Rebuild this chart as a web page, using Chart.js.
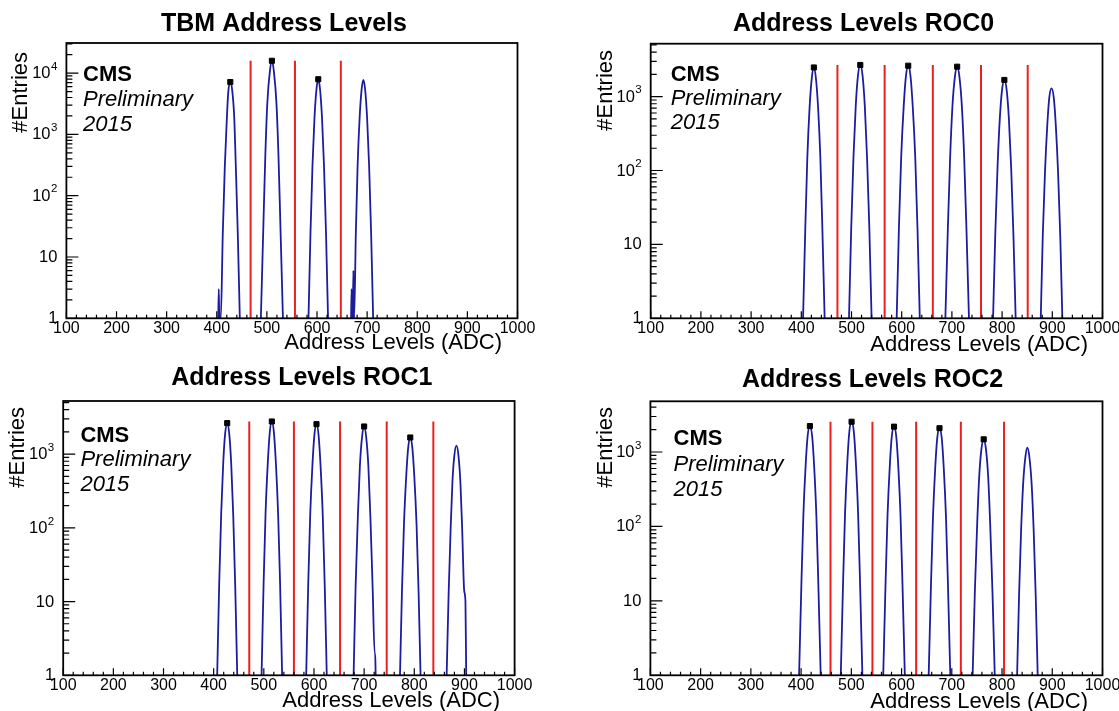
<!DOCTYPE html>
<html>
<head>
<meta charset="utf-8">
<title>Address Levels</title>
<script src="https://cdn.jsdelivr.net/npm/chart.js@4.4.1/dist/chart.umd.min.js"></script>
<style>
    html, body { margin: 0; padding: 0; background: #fff; }
    body { position: relative; width: 1119px; height: 711px; overflow: hidden; }
    .pad { position: absolute; }
    .pad canvas { display: block; }
</style>
</head>
<body>
<div class="pad" style="left:0px;top:0px"><canvas id="tbm" width="560" height="360"></canvas></div>
<div class="pad" style="left:560px;top:0px"><canvas id="roc0" width="559" height="360"></canvas></div>
<div class="pad" style="left:0px;top:360px"><canvas id="roc1" width="560" height="351"></canvas></div>
<div class="pad" style="left:560px;top:360px"><canvas id="roc2" width="559" height="351"></canvas></div>
<script>
// axis ticks and labels
const xTicks = [100, 200, 300, 400, 500, 600, 700, 800, 900, 1000];
const yTicks = [1, 10, 100, 1000, 10000];
const yTickBase = ['1', '10', '10', '10', '10'];
const yTickExp = ['', '', '2', '3', '4'];
const titles = ['TBM Address Levels', 'Address Levels ROC0', 'Address Levels ROC1', 'Address Levels ROC2'];
const yMax = [31000, 5200, 5250, 4800];

// TBM: one list of bins per peak (ADC, entries)
const tbmX = [
    [403, 404, 405, 408, 412, 416, 420, 423, 427, 431, 435, 438, 442, 446],
    [488, 493, 497, 501, 506, 510, 514, 519, 523, 527, 532],
    [583, 587, 591, 595, 599, 602.5, 606, 610, 614, 618, 622],
    [668, 669, 670, 671.5, 672.5, 674, 677.5, 681, 685, 689, 692.5, 696, 700, 704, 708, 712]
];
const tbmY = [
    [1, 3, 1, 1, 24, 290, 1730, 5000, 7150, 5100, 1800, 300, 23, 1],
    [1, 33, 490, 3380, 10800, 15900, 10600, 3300, 480, 32, 1],
    [1, 25, 313, 1890, 5550, 7950, 5500, 1850, 300, 24, 1],
    [1, 3, 1, 1, 6, 1, 25, 309, 1850, 5420, 7770, 5400, 1820, 300, 24, 1]
];
const tbmCuts = [467.5, 556, 647.5];

// ROC0
const roc0X = [
    [403.5, 408, 412, 416.5, 421, 425, 429, 433.5, 438, 442, 446.5],
    [495, 499.5, 504, 508.5, 513, 517.5, 522, 526.5, 531, 535.5, 540],
    [590, 594.5, 599, 604, 608.5, 613, 617.5, 622, 627, 631.5, 636],
    [687, 692, 696.5, 701, 706, 710.5, 715, 720, 724.5, 729, 734],
    [782, 786.5, 791, 795.5, 800, 804.5, 809, 813.5, 818, 822.5, 827],
    [877, 881, 885.5, 890, 894, 898.5, 903, 907, 911.5, 916, 920]
];
const roc0Y = [
    [1, 17, 149, 710, 1810, 2480, 1800, 700, 145, 16, 1],
    [1, 17, 156, 760, 1950, 2680, 1940, 750, 150, 17, 1],
    [1, 17, 154, 743, 1910, 2620, 1900, 735, 150, 16, 1],
    [1, 17, 151, 725, 1860, 2540, 1850, 715, 148, 16, 1],
    [1, 14.5, 116, 512, 1250, 1680, 1240, 505, 112, 14, 1],
    [1, 13, 98, 410, 970, 1290, 960, 405, 95, 12, 1]
];
const roc0Cuts = [472, 566, 662, 758, 851];

// ROC1
const roc1X = [
    [407, 411, 415, 419, 423, 427, 431, 435, 439, 443, 447],
    [495.5, 499.5, 503.5, 508, 512, 516, 520, 524, 528.5, 532.5, 536.5],
    [584.5, 588.5, 592.5, 597, 601, 605, 609, 613, 617.5, 621.5, 625.5],
    [679, 683, 687.5, 691.5, 696, 700, 704, 708.5, 712.5, 717, 721, 722, 723],
    [771.5, 775.5, 779.5, 784, 788, 792, 796, 800, 804.5, 808.5, 812.5],
    [864.5, 868.5, 872.5, 876, 880, 884, 888, 892, 895.5, 899.5, 902, 903.5]
];
const roc1Y = [
    [1, 17, 155, 747, 1920, 2630, 1910, 740, 150, 16, 1],
    [1, 17, 160, 778, 2010, 2770, 2000, 770, 155, 17, 1],
    [1, 17, 151, 728, 1870, 2550, 1860, 720, 148, 16, 1],
    [1, 16, 145, 684, 1740, 2370, 1730, 675, 140, 15, 2, 2, 1],
    [1, 14.5, 116, 512, 1250, 1680, 1240, 505, 112, 14, 1],
    [1, 13, 98, 413, 975, 1300, 965, 405, 95, 14, 10, 1]
];
const roc1Cuts = [471, 560, 652, 745, 838];

// ROC2
const roc2X = [
    [396, 400.5, 404.5, 409, 413, 417.5, 422, 426, 430.5, 434.5, 439],
    [479, 483.5, 487.5, 492, 496, 500.5, 505, 509, 513.5, 517.5, 522],
    [563.5, 568, 572, 576.5, 580.5, 585, 589.5, 593.5, 598, 602, 606.5],
    [654, 658.5, 662.5, 667, 671, 675.5, 680, 684, 688.5, 692.5, 697],
    [741.5, 746, 750.5, 754.5, 759, 763.5, 768, 772.5, 776.5, 781, 785.5],
    [830, 834, 838, 842, 846.5, 850.5, 854.5, 859, 863, 867, 871]
];
const roc2Y = [
    [1, 16, 139, 649, 1640, 2230, 1630, 640, 135, 15, 1],
    [1, 17, 151, 728, 1870, 2550, 1860, 720, 148, 16, 1],
    [1, 16, 137, 640, 1610, 2190, 1600, 632, 134, 15, 1],
    [1, 16, 133, 615, 1540, 2090, 1530, 608, 130, 15, 1],
    [1, 14, 107, 460, 1100, 1480, 1090, 455, 104, 13, 1],
    [1, 12.6, 90, 370, 860, 1140, 850, 365, 88, 12, 1]
];
const roc2Cuts = [458.5, 542, 629, 718, 804];

const FONT = "'Liberation Sans', Arial, Helvetica, sans-serif";
const BLUE = 'rgb(28, 28, 158)';
const RED = 'rgb(238, 30, 30)';

// pad layout (pixels inside each canvas)
const pads = [
    { id: 'tbm',  xs: tbmX,  ys: tbmY,  cuts: tbmCuts,  frame: { l: 66.4, t: 43, r: 517.5, b: 318.3 },
      titleAt: [284, 24], cmsAt: [83, 75, 100, 125], xTitleAt: [502, 343], yTitleAt: [21, 52] },
    { id: 'roc0', xs: roc0X, ys: roc0Y, cuts: roc0Cuts, frame: { l: 90.7, t: 43.7, r: 542.5, b: 318.3 },
      titleAt: [303.6, 24], cmsAt: [110.7, 75, 99, 123.3], xTitleAt: [528, 345], yTitleAt: [46, 50] },
    { id: 'roc1', xs: roc1X, ys: roc1Y, cuts: roc1Cuts, frame: { l: 63.2, t: 41, r: 514.6, b: 315.3 },
      titleAt: [301.8, 18.5], cmsAt: [80.4, 76, 100, 125], xTitleAt: [500, 340.5], yTitleAt: [18, 47] },
    { id: 'roc2', xs: roc2X, ys: roc2Y, cuts: roc2Cuts, frame: { l: 90.4, t: 41.3, r: 542.5, b: 315.3 },
      titleAt: [312.5, 20], cmsAt: [113.6, 79, 105, 130], xTitleAt: [528, 341.5], yTitleAt: [46, 47] }
];

function curvePoints(xs, ys) {
    const pts = [];
    xs.forEach((peak, i) => {
        peak.forEach((x, j) => pts.push({ x: x, y: ys[i][j] }));
        pts.push({ x: peak[peak.length - 1] + 0.5, y: null });
    });
    return pts;
}

// black markers on the found maxima (all peaks but the last)
function peakMarkers(xs, ys) {
    return xs.slice(0, -1).map((peak, i) => {
        const top = Math.max(...ys[i]);
        return { x: peak[ys[i].indexOf(top)], y: top };
    });
}

function cutLines(cuts, top) {
    return cuts.flatMap(c => [{ x: c, y: 1 }, { x: c, y: top }, { x: c, y: null }]);
}

// ROOT-like frame, inner ticks, 10^n labels and pad texts
const rootPad = {
    id: 'rootPad',
    afterDatasetsDraw(chart, args, o) {
        const { ctx, chartArea: a, scales: { x, y } } = chart;
        ctx.save();
        ctx.strokeStyle = '#000';
        ctx.lineWidth = 1.2;
        ctx.beginPath();
        for (let v = x.min; v <= x.max; v += 20) {
            const px = x.getPixelForValue(v);
            const len = v % 100 === 0 ? 7 : 3.5;
            ctx.moveTo(px, a.bottom);
            ctx.lineTo(px, a.bottom - len);
        }
        for (let d = 1; d <= y.max; d *= 10) {
            for (let k = 1; k < 10 && k * d <= y.max; k++) {
                const py = y.getPixelForValue(k * d);
                ctx.moveTo(a.left, py);
                ctx.lineTo(a.left + (k === 1 ? 12 : 6), py);
            }
        }
        ctx.stroke();
        ctx.lineWidth = 1.8;
        ctx.strokeRect(a.left, a.top, a.right - a.left, a.bottom - a.top);

        ctx.fillStyle = '#000';
        ctx.textBaseline = 'middle';

        // y tick labels with raised exponents
        ctx.textAlign = 'right';
        yTicks.forEach((v, k) => {
            if (v > y.max) return;
            const py = y.getPixelForValue(v);
            let right = a.left - 9;
            if (yTickExp[k]) {
                ctx.font = '11.5px ' + FONT;
                ctx.fillText(yTickExp[k], right, py - 6.5);
                right -= ctx.measureText(yTickExp[k]).width + 0.5;
            }
            ctx.font = '16.5px ' + FONT;
            ctx.fillText(yTickBase[k], right, py + 0.5);
        });

        ctx.textAlign = 'center';
        ctx.font = 'bold 25px ' + FONT;
        ctx.fillText(o.title, o.titleAt[0], o.titleAt[1]);

        ctx.textAlign = 'left';
        ctx.font = 'bold 22px ' + FONT;
        ctx.fillText('CMS', o.cmsAt[0], o.cmsAt[1]);
        ctx.font = 'italic 22px ' + FONT;
        ctx.fillText('Preliminary', o.cmsAt[0], o.cmsAt[2]);
        ctx.fillText('2015', o.cmsAt[0], o.cmsAt[3]);

        ctx.textAlign = 'right';
        ctx.font = '22px ' + FONT;
        ctx.fillText('Address Levels (ADC)', o.xTitleAt[0], o.xTitleAt[1]);

        ctx.translate(o.yTitleAt[0], o.yTitleAt[1]);
        ctx.rotate(-Math.PI / 2);
        ctx.fillText('#Entries', 0, 0);
        ctx.restore();
    }
};

pads.forEach((p, i) => {
    const canvas = document.getElementById(p.id);
    const f = p.frame;
    const top = Math.max(...p.ys.flat());

    new Chart(canvas, {
        type: 'line',
        data: {
            datasets: [
                {
                    data: curvePoints(p.xs, p.ys),
                    borderColor: BLUE,
                    borderWidth: 1.8,
                    pointRadius: 0,
                    cubicInterpolationMode: 'monotone',
                    order: 3
                },
                {
                    data: cutLines(p.cuts, top),
                    borderColor: RED,
                    borderWidth: 2,
                    pointRadius: 0,
                    tension: 0,
                    order: 2
                },
                {
                    data: peakMarkers(p.xs, p.ys),
                    showLine: false,
                    pointStyle: 'rect',
                    pointRadius: 3.6,
                    pointBackgroundColor: '#000',
                    pointBorderColor: '#000',
                    order: 1
                }
            ]
        },
        options: {
            responsive: false,
            animation: false,
            devicePixelRatio: 1,
            layout: {
                padding: { left: 0, top: f.t, right: canvas.width - f.r, bottom: canvas.height - f.b - 30 }
            },
            plugins: {
                legend: { display: false },
                tooltip: { enabled: false },
                rootPad: {
                    title: titles[i],
                    titleAt: p.titleAt,
                    cmsAt: p.cmsAt,
                    xTitleAt: p.xTitleAt,
                    yTitleAt: p.yTitleAt
                }
            },
            scales: {
                x: {
                    type: 'linear',
                    min: 100,
                    max: 1000,
                    afterBuildTicks: s => { s.ticks = xTicks.map(v => ({ value: v })); },
                    afterFit: s => { s.height = 30; s.paddingLeft = 0; s.paddingRight = 0; },
                    grid: { display: false },
                    border: { display: false },
                    ticks: {
                        color: '#000',
                        font: { family: FONT, size: 16, lineHeight: 1 },
                        padding: -6,
                        maxRotation: 0,
                        autoSkip: false,
                        callback: v => String(v)
                    }
                },
                y: {
                    type: 'logarithmic',
                    min: 1,
                    max: yMax[i],
                    afterBuildTicks: s => { s.ticks = yTicks.filter(v => v <= s.max).map(v => ({ value: v })); },
                    afterFit: s => { s.width = f.l; s.paddingTop = 0; s.paddingBottom = 0; },
                    grid: { display: false },
                    border: { display: false },
                    ticks: { display: false }
                }
            }
        },
        plugins: [rootPad]
    });
});
</script>
</body>
</html>
